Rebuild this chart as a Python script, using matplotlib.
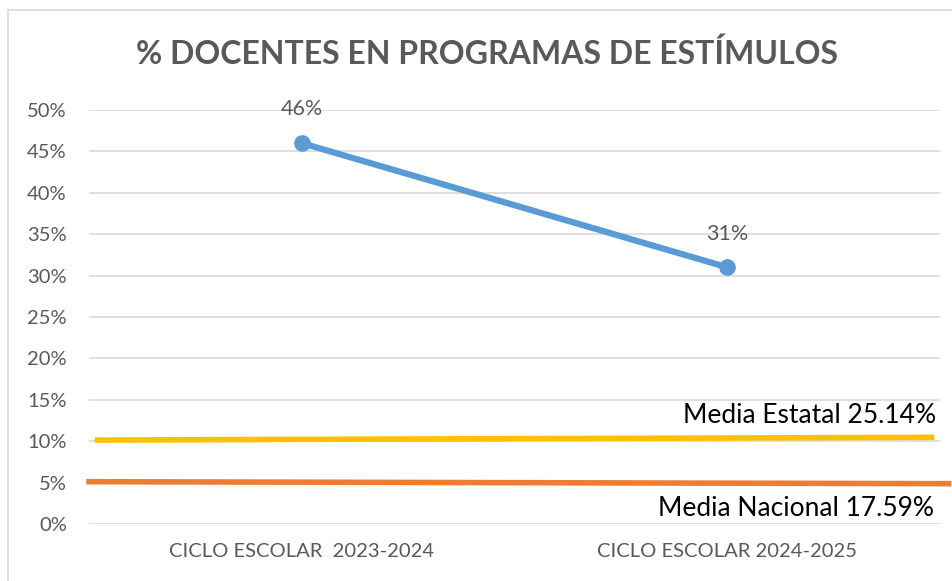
import matplotlib.pyplot as plt
from matplotlib.patches import Rectangle
from matplotlib.ticker import PercentFormatter

plt.rcParams['font.family'] = ['Lato', 'DejaVu Sans']

# datos
ciclos = ['CICLO ESCOLAR  2023-2024', 'CICLO ESCOLAR 2024-2025']
docentes = [46, 31]
etiquetas = ['46%', '31%']

# lineas de referencia (dibujadas a mano en el original, ligeramente inclinadas)
ref_x = [-0.48, 1.48]
media_estatal = [10.14, 10.47]
media_nacional = [5.11, 4.87]
txt_estatal = 'Media Estatal 25.14%'
txt_nacional = 'Media Nacional 17.59%'

gris = '#595959'

fig = plt.figure(figsize=(9.53, 5.81), dpi=100)
ax = fig.add_axes([0.0934, 0.0981, 0.893, 0.7126])

# borde del grafico
fig.patches.append(Rectangle((8 / 953, -0.01), 1.0, 1 - 10 / 581 + 0.01,
                             transform=fig.transFigure, fill=False,
                             edgecolor='#d9d9d9', linewidth=1.2))

ax.set_xlim(-0.5, 1.5)
ax.set_ylim(0, 50)
ax.set_yticks(range(0, 51, 5))
ax.yaxis.set_major_formatter(PercentFormatter(decimals=0))
ax.grid(axis='y', color='#d9d9d9', linewidth=1.2)
ax.set_axisbelow(True)
for s in ax.spines.values():
    s.set_visible(False)
ax.tick_params(length=0, colors=gris)
ax.tick_params(axis='y', pad=16, labelsize=14.5)
ax.tick_params(axis='x', pad=14, labelsize=14.5)
ax.set_xticks(range(len(ciclos)))
ax.set_xticklabels(ciclos)

ax.plot(range(len(ciclos)), docentes, color='#5b9bd5', linewidth=4.5,
        marker='o', markersize=11, solid_capstyle='round')
for i, (v, t) in enumerate(zip(docentes, etiquetas)):
    ax.annotate(t, (i, v), xytext=(0, 17), textcoords='offset points',
                ha='center', va='bottom', fontsize=15.5, color=gris)

ax.plot(ref_x, media_estatal, color='#ffc000', linewidth=4, clip_on=False)
ax.plot([-0.5, 1.52], media_nacional, color='#ed7d31', linewidth=4, clip_on=False)
ax.text(1.49, 11.6, txt_estatal, ha='right', va='bottom', fontsize=19, color='black')
ax.text(1.485, 3.4, txt_nacional, ha='right', va='top', fontsize=19, color='black')

fig.text(0.511, 0.907, '% DOCENTES EN PROGRAMAS DE ESTÍMULOS', ha='center',
         va='center', fontsize=23, fontweight='bold', color=gris)

fig.savefig('out.png', dpi=100)
